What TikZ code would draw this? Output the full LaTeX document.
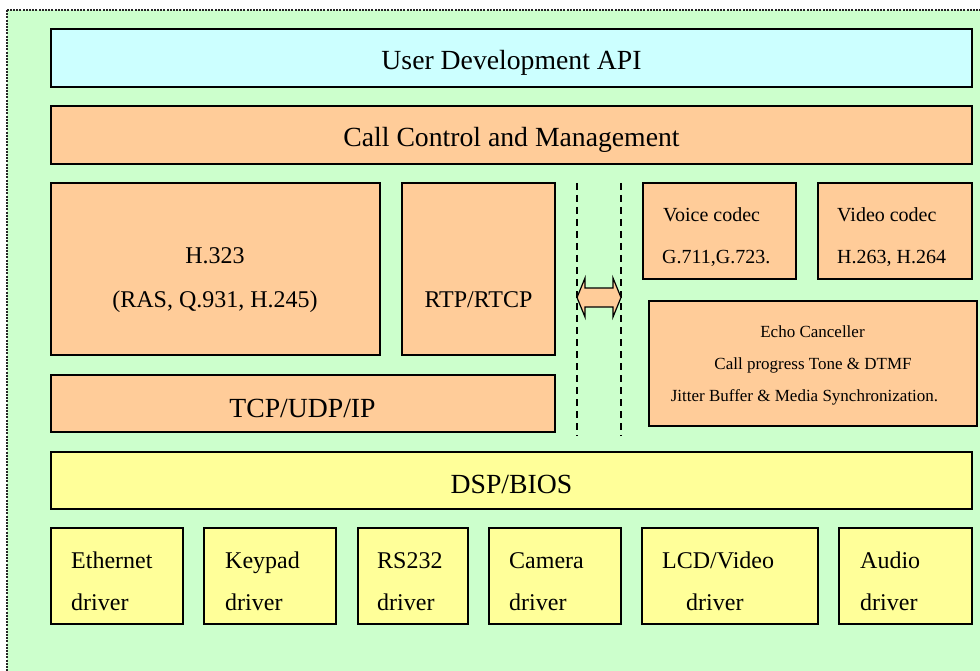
\documentclass[tikz,border=0pt]{standalone}
\usepackage{fontspec}
\setmainfont{Liberation Serif}
\definecolor{bggreen}{HTML}{CCFFCC}
\definecolor{apicyan}{HTML}{CCFFFF}
\definecolor{orng}{HTML}{FFCC99}
\definecolor{yel}{HTML}{FFFF99}
\tikzset{
  box/.style={draw=black, line width=1.3pt, inner sep=0pt, outer sep=0pt, anchor=north west},
  bigtxt/.style={inner sep=0pt, font=\fontsize{27.7}{30}\selectfont},
  midtxt/.style={inner sep=0pt, font=\fontsize{24}{26}\selectfont},
  smltxt/.style={inner sep=0pt, font=\fontsize{20}{22}\selectfont},
  tinytxt/.style={inner sep=0pt, font=\fontsize{17}{19}\selectfont},
  sep/.style={dash pattern=on 7pt off 5pt, line width=1.4pt}
}
\newcommand\mybox[6]{\node[box,fill=#6,minimum width={(#4-#2)*1pt},minimum height={(#5-#3)*1pt}] (#1) at (#2,#3) {};}
\begin{document}
\begin{tikzpicture}[x=1pt,y=-1pt]
\useasboundingbox (0,0) rectangle (980,671);
\clip (0,0) rectangle (980,671);
% outer frame
\filldraw[fill=bggreen, draw=black!85, line width=1.5pt, dash pattern=on 2pt off 1.2pt] (7,10) rectangle (995,690);
% layers
\mybox{api}{51}{29}{972}{87}{apicyan}
\mybox{ccm}{51}{106}{972}{164}{orng}
\mybox{h323}{51}{183}{380}{355}{orng}
\mybox{rtp}{402}{183}{555}{355}{orng}
\mybox{tcp}{51}{375}{555}{432}{orng}
\mybox{voice}{643}{183}{796}{279}{orng}
\mybox{video}{818}{183}{972}{279}{orng}
\mybox{echo}{649}{301}{977}{426}{orng}
\mybox{dsp}{51}{452}{972}{509}{yel}
\mybox{eth}{51}{528}{183}{624}{yel}
\mybox{key}{204}{528}{336}{624}{yel}
\mybox{rs}{358}{528}{468}{624}{yel}
\mybox{cam}{489}{528}{621}{624}{yel}
\mybox{lcd}{642}{528}{818}{624}{yel}
\mybox{aud}{839}{528}{972}{624}{yel}
% separators
\draw[sep] (577,183) -- (577,436);
\draw[sep] (621,183) -- (621,436);
% double arrow
\filldraw[fill=orng, draw=black, line width=1.2pt, line join=miter]
  (577,297.5) -- (585,278) -- (585,288) -- (613,288) -- (613,278) -- (621,297.5)
  -- (613,317) -- (613,307) -- (585,307) -- (585,317) -- cycle;
% texts
\node[bigtxt, anchor=base] (tapi) at (511.5,70) {User Development API};
\node[bigtxt, anchor=base] (tccm) at (511.5,147) {Call Control and Management};
\node[midtxt, anchor=base] (th1) at (215,264) {H.323};
\node[midtxt, anchor=base] (th2) at (215,307) {(RAS, Q.931, H.245)};
\node[midtxt, anchor=base] (trtp) at (478.5,307) {RTP/RTCP};
\node[bigtxt, anchor=base] (ttcp) at (302.5,417) {TCP/UDP/IP};
\node[smltxt, anchor=base west] (tv1) at (663,222) {Voice codec};
\node[smltxt, anchor=base west] (tv2) at (662,263) {G.711,G.723.};
\node[smltxt, anchor=base west] (tw1) at (837,222) {Video codec};
\node[smltxt, anchor=base west] (tw2) at (837,263) {H.263, H.264};
\node[tinytxt, anchor=base] (te1) at (812.5,337) {Echo Canceller};
\node[tinytxt, anchor=base] (te2) at (813,369) {Call progress Tone \& DTMF};
\node[tinytxt, anchor=base] (te3) at (804.5,401) {Jitter Buffer \& Media Synchronization.};
\node[bigtxt, anchor=base] (tdsp) at (511.5,493) {DSP/BIOS};
\node[midtxt, anchor=base west] (d1a) at (71,568) {Ethernet};
\node[midtxt, anchor=base west] (d1b) at (71,610) {driver};
\node[midtxt, anchor=base west] (d2a) at (225,568) {Keypad};
\node[midtxt, anchor=base west] (d2b) at (225,610) {driver};
\node[midtxt, anchor=base west] (d3a) at (377,568) {RS232};
\node[midtxt, anchor=base west] (d3b) at (377,610) {driver};
\node[midtxt, anchor=base west] (d4a) at (509,568) {Camera};
\node[midtxt, anchor=base west] (d4b) at (509,610) {driver};
\node[midtxt, anchor=base west] (d5a) at (662,568) {LCD/Video};
\node[midtxt, anchor=base west] (d5b) at (686,610) {driver};
\node[midtxt, anchor=base west] (d6a) at (860,568) {Audio};
\node[midtxt, anchor=base west] (d6b) at (860,610) {driver};
\end{tikzpicture}
\end{document}
